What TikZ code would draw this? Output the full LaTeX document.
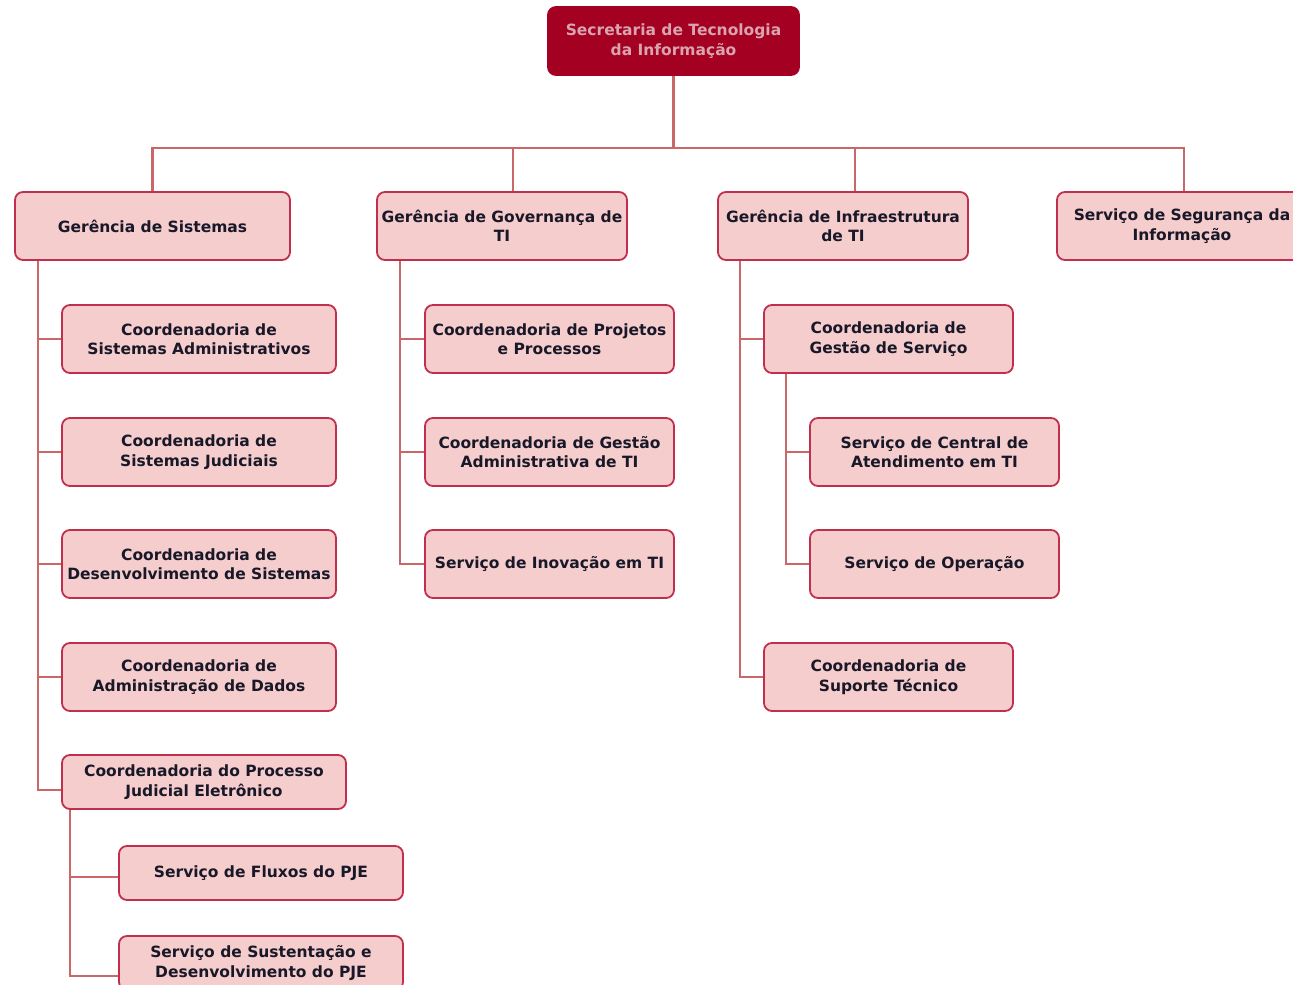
\documentclass[tikz,border=0pt]{standalone}
\usepackage{fontspec}
\setmainfont{DejaVu Sans}
\usetikzlibrary{positioning}

\definecolor{boxfill}{RGB}{246,205,205}
\definecolor{boxline}{RGB}{192,48,78}
\definecolor{linkcol}{RGB}{200,104,104}
\definecolor{rootfill}{RGB}{163,0,34}
\definecolor{roottext}{RGB}{218,164,174}
\definecolor{boxtext}{RGB}{24,24,40}

\begin{document}
\begin{tikzpicture}[x=1pt, y=-1pt,
  unit/.style={draw=boxline, fill=boxfill, line width=1.8pt, rounded corners=8pt,
    text=boxtext, align=center, inner sep=0pt, minimum height=68pt,
    font=\fontsize{15.5}{19.5}\selectfont\bfseries},
  small/.style={unit, minimum height=54pt},
  rootbox/.style={unit, draw=rootfill, fill=rootfill, text=roottext},
  link/.style={draw=linkcol, line width=2.6pt}]
\useasboundingbox (0,0) rectangle (1293,985);
\clip (0,0) rectangle (1293,985);

% top
\node [rootbox, minimum width=251pt] (root) at (673.5, 41) {Secretaria de Tecnologia\\da Informação};

% gerencias
\node [unit, minimum width=275pt] (gs) at (152.5, 226) {Gerência de Sistemas};
\node [unit, minimum width=250pt] (ggov) at (502, 226) {Gerência de Governança de\\TI};
\node [unit, minimum width=250pt] (ginf) at (843, 226) {Gerência de Infraestrutura\\de TI};
\node [unit, minimum width=250pt] (ssi) at (1182, 226) {Serviço de Segurança da\\Informação};

% sistemas
\node [unit, minimum width=274pt] (csa) at (199, 339) {Coordenadoria de\\Sistemas Administrativos};
\node [unit, minimum width=274pt] (csj) at (199, 452) {Coordenadoria de\\Sistemas Judiciais};
\node [unit, minimum width=274pt] (cds) at (199, 564) {Coordenadoria de\\Desenvolvimento de Sistemas};
\node [unit, minimum width=274pt] (cad) at (199, 677) {Coordenadoria de\\Administração de Dados};
\node [small, minimum width=284pt] (cpje) at (204, 782) {Coordenadoria do Processo\\Judicial Eletrônico};
\node [small, minimum width=284pt] (sfp) at (261, 873) {Serviço de Fluxos do PJE};
\node [small, minimum width=284pt] (ssd) at (261, 963) {Serviço de Sustentação e\\Desenvolvimento do PJE};

% governanca
\node [unit, minimum width=249pt] (cpp) at (549.5, 339) {Coordenadoria de Projetos\\e Processos};
\node [unit, minimum width=249pt] (cga) at (549.5, 452) {Coordenadoria de Gestão\\Administrativa de TI};
\node [unit, minimum width=249pt] (sit) at (549.5, 564) {Serviço de Inovação em TI};

% infraestrutura
\node [unit, minimum width=249pt] (cgs) at (888.5, 339) {Coordenadoria de\\Gestão de Serviço};
\node [unit, minimum width=249pt] (sca) at (934.5, 452) {Serviço de Central de\\Atendimento em TI};
\node [unit, minimum width=249pt] (sop) at (934.5, 564) {Serviço de Operação};
\node [unit, minimum width=249pt] (cst) at (888.5, 677) {Coordenadoria de\\Suporte Técnico};

% links
\draw [link] (root.south) -- ++(0, 72) coordinate (bus);
\draw [link] (gs.north) |- (bus) -| ([xshift=2pt]ssi.north);
\draw [link] ([xshift=11pt]ggov.north) |- (bus);
\draw [link] ([xshift=12pt]ginf.north) |- (bus);

\draw [link] ([xshift=24pt]gs.south west) |- (csa.west);
\draw [link] ([xshift=24pt]gs.south west) |- (csj.west);
\draw [link] ([xshift=24pt]gs.south west) |- (cds.west);
\draw [link] ([xshift=24pt]gs.south west) |- (cad.west);
\draw [link] ([xshift=24pt]gs.south west) |- ([yshift=-8pt]cpje.west);
\draw [link] ([xshift=9pt]cpje.south west) |- ([yshift=-4pt]sfp.west);
\draw [link] ([xshift=9pt]cpje.south west) |- ([yshift=-13pt]ssd.west);

\draw [link] ([xshift=24pt]ggov.south west) |- (cpp.west);
\draw [link] ([xshift=24pt]ggov.south west) |- (cga.west);
\draw [link] ([xshift=24pt]ggov.south west) |- (sit.west);

\draw [link] ([xshift=23pt]ginf.south west) |- (cgs.west);
\draw [link] ([xshift=23pt]ginf.south west) |- (cst.west);
\draw [link] ([xshift=23pt]cgs.south west) |- (sca.west);
\draw [link] ([xshift=23pt]cgs.south west) |- (sop.west);
\end{tikzpicture}
\end{document}
